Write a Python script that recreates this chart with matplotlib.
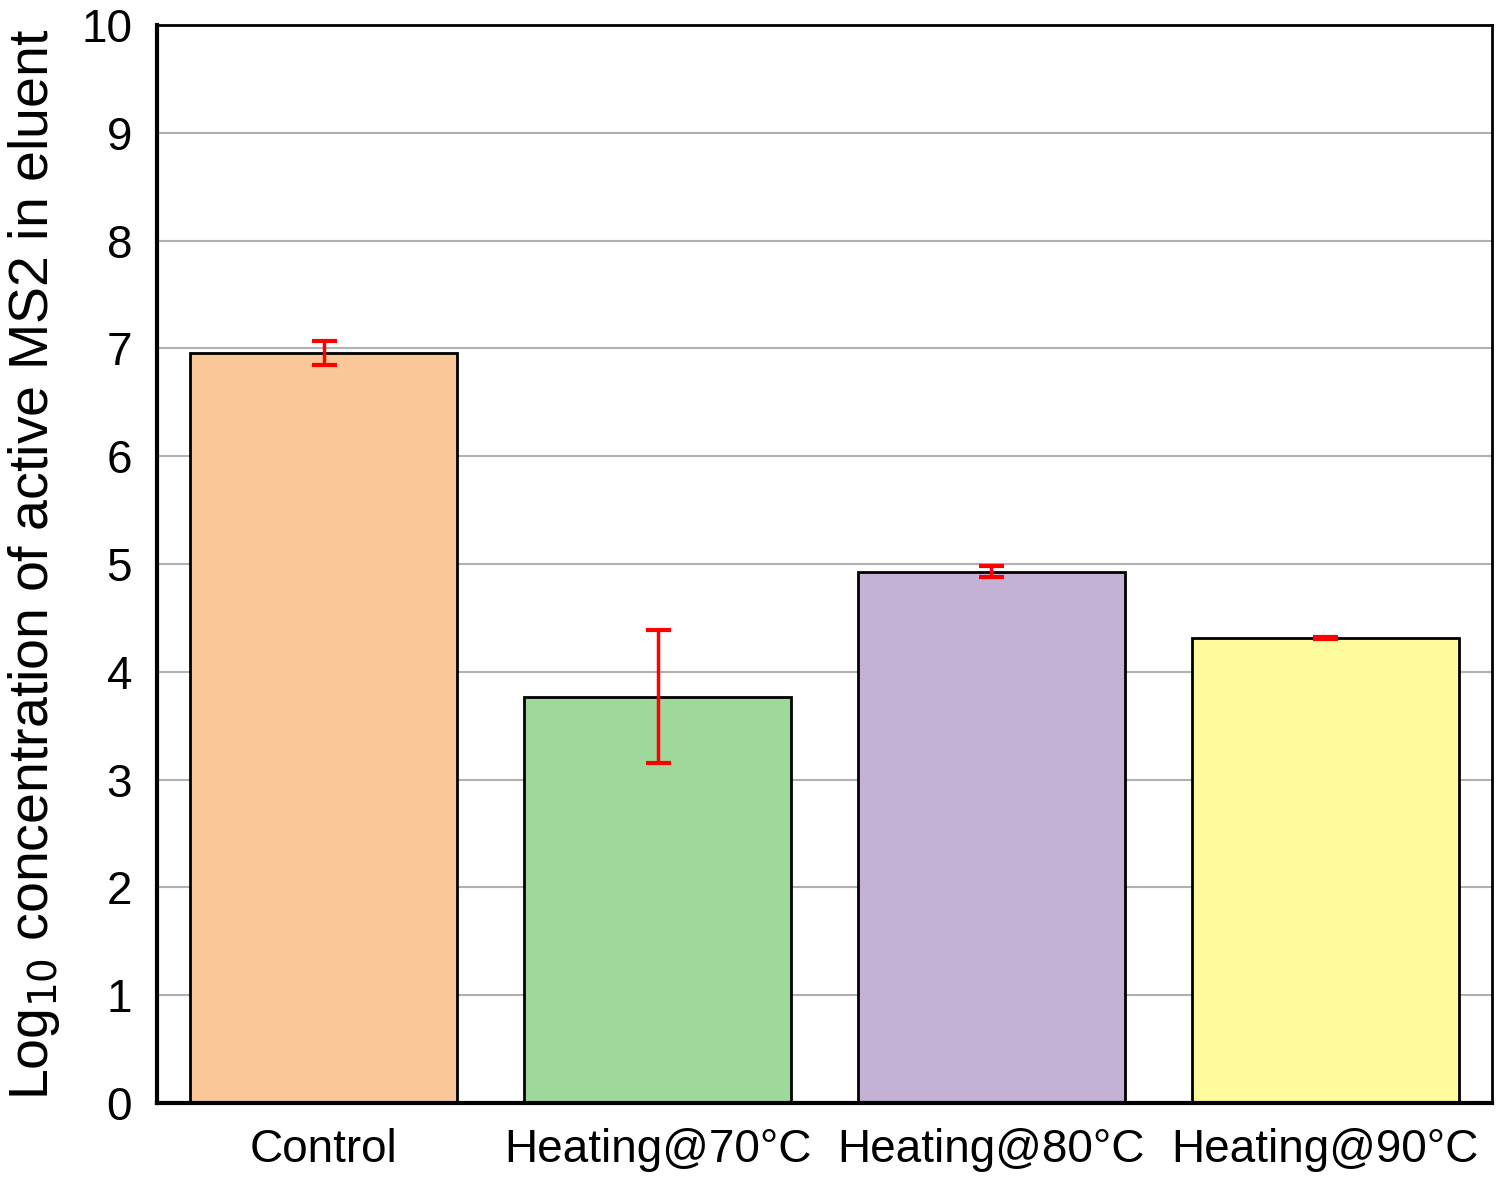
import matplotlib
matplotlib.use("Agg")
import matplotlib.pyplot as plt
import numpy as np

plt.rcParams['font.family'] = ['Liberation Sans', 'DejaVu Sans']

# 数据
categories = ['Control', 'Heating@70°C', 'Heating@80°C', 'Heating@90°C']
values = [6.96, 3.77, 4.93, 4.31]
errors = [0.11, 0.62, 0.05, 0.01]
colors = ['#FAC898', '#9FD89B', '#C3B1D6', '#FFFC9E']

fig = plt.figure(figsize=(15, 11.78), dpi=100)
ax = fig.add_axes([0.1047, 0.0637, 0.8900, 0.9151])

x = np.arange(len(categories))
ax.bar(x, values, width=0.8, color=colors, edgecolor='black', linewidth=2, zorder=2)
ax.errorbar(x, values, yerr=errors, fmt='none', ecolor='red', elinewidth=2.5,
            capsize=9, capthick=3, zorder=3)

ax.set_xlim(-0.5, 3.5)
ax.set_ylim(0, 10)
ax.set_yticks(range(0, 11))
ax.yaxis.grid(True, color='#B0B0B0', linewidth=1.5, zorder=0)
ax.set_axisbelow(True)

ax.set_xticks(x)
ax.set_xticklabels(categories)
ax.tick_params(axis='y', length=0, labelsize=33, pad=18)
ax.tick_params(axis='x', length=0, labelsize=33, pad=18)

for side in ['left', 'bottom']:
    ax.spines[side].set_linewidth(3)
for side in ['top', 'right']:
    ax.spines[side].set_linewidth(2)

ax.set_ylabel('Log$_{10}$ concentration of active MS2 in eluent', fontsize=40, labelpad=14)

fig.savefig('out.png', dpi=100)
